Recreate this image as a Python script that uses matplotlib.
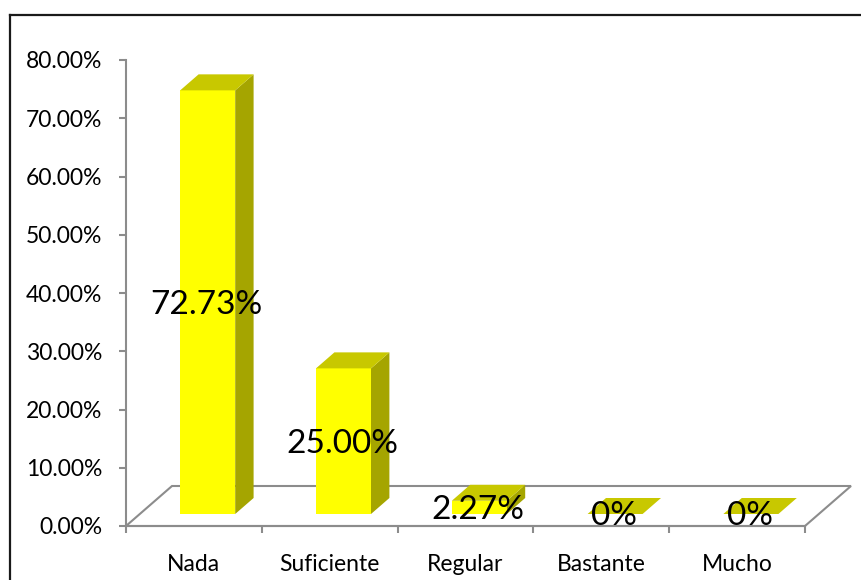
import matplotlib
matplotlib.use("Agg")
import matplotlib.pyplot as plt
from matplotlib.patches import Polygon
from matplotlib.lines import Line2D

categories = ["Nada", "Suficiente", "Regular", "Bastante", "Mucho"]
values = [72.73, 25.00, 2.27, 0.0, 0.0]
value_labels = ["72.73%", "25.00%", "2.27%", "0%", "0%"]
y_ticks = [0, 10, 20, 30, 40, 50, 60, 70, 80]
y_tick_labels = [f"{t:.2f}%" for t in y_ticks]

FONT = ["Lato", "DejaVu Sans"]
plt.rcParams["font.family"] = FONT

W, H = 862, 580
fig = plt.figure(figsize=(W / 100, H / 100), dpi=100)
fig.patch.set_facecolor("white")

# plot area (front plane of the 3-D box)
x_left, x_right, y_bottom, y_top = 126, 805, 526, 60
ax = fig.add_axes([x_left / W, (H - y_bottom) / H,
                   (x_right - x_left) / W, (y_bottom - y_top) / H])
ax.set_xlim(-0.5, len(categories) - 0.5)
ax.set_ylim(0, 80)
ax.set_facecolor("none")

# oblique depth of the floor expressed in data units
px_per_cat = (x_right - x_left) / len(categories)
px_per_pct = (y_bottom - y_top) / 80
depth_x = 46 / px_per_cat
depth_y = 40 / px_per_pct

bar_w = 0.405
front, back = 0.3, 0.7

grey = "#8c8c8c"
c_front = "#ffff00"
c_top = "#c8c800"
c_side = "#a5a500"

# floor outline
n = len(categories)
floor = Polygon([(-0.5, 0), (n - 0.5, 0), (n - 0.5 + depth_x, depth_y),
                 (-0.5 + depth_x, depth_y)], closed=True, facecolor="none",
                edgecolor=grey, linewidth=1.5, clip_on=False, zorder=1)
ax.add_patch(floor)

# 3-D columns
for i, v in enumerate(values):
    x0, x1 = i - bar_w / 2, i + bar_w / 2
    fx, fy = front * depth_x, front * depth_y
    bx, by = back * depth_x, back * depth_y
    side = Polygon([(x1 + fx, fy), (x1 + bx, by), (x1 + bx, v + by), (x1 + fx, v + fy)],
                   closed=True, facecolor=c_side, edgecolor="none", clip_on=False, zorder=2)
    face = Polygon([(x0 + fx, fy), (x1 + fx, fy), (x1 + fx, v + fy), (x0 + fx, v + fy)],
                   closed=True, facecolor=c_front, edgecolor="none", clip_on=False, zorder=3)
    top = Polygon([(x0 + fx, v + fy), (x1 + fx, v + fy), (x1 + bx, v + by), (x0 + bx, v + by)],
                  closed=True, facecolor=c_top, edgecolor="none", clip_on=False, zorder=3)
    for p in (side, face, top):
        ax.add_patch(p)
    ax.text(i + fx - 0.01, v / 2 + fy - 0.4, value_labels[i], ha="center", va="center",
            fontsize=24, color="black", zorder=5, clip_on=False)

# axes styling
for s in ("top", "right"):
    ax.spines[s].set_visible(False)
for s in ("left", "bottom"):
    ax.spines[s].set_color(grey)
    ax.spines[s].set_linewidth(1.5)

ax.set_yticks(y_ticks)
ax.set_yticklabels(y_tick_labels)
ax.tick_params(axis="y", length=5, width=1.5, color=grey, pad=12,
               labelsize=16.5, labelcolor="black")

ax.set_xticks([i - 0.5 for i in range(n + 1)])
ax.set_xticklabels([])
ax.set_xticks(range(n), minor=True)
ax.set_xticklabels(categories, minor=True)
ax.tick_params(axis="x", which="major", length=5, width=1.5, color=grey)
ax.tick_params(axis="x", which="minor", length=0, pad=20,
               labelsize=16.5, labelcolor="black")

# chart frame
fig.add_artist(Line2D([10.5 / W, 1.0], [1 - 14.5 / H, 1 - 14.5 / H],
                      transform=fig.transFigure, color="#1a1a1a", linewidth=1.6))
fig.add_artist(Line2D([10.5 / W, 10.5 / W], [0.0, 1 - 14.5 / H],
                      transform=fig.transFigure, color="#1a1a1a", linewidth=1.6))

fig.savefig("out.png", dpi=100)
